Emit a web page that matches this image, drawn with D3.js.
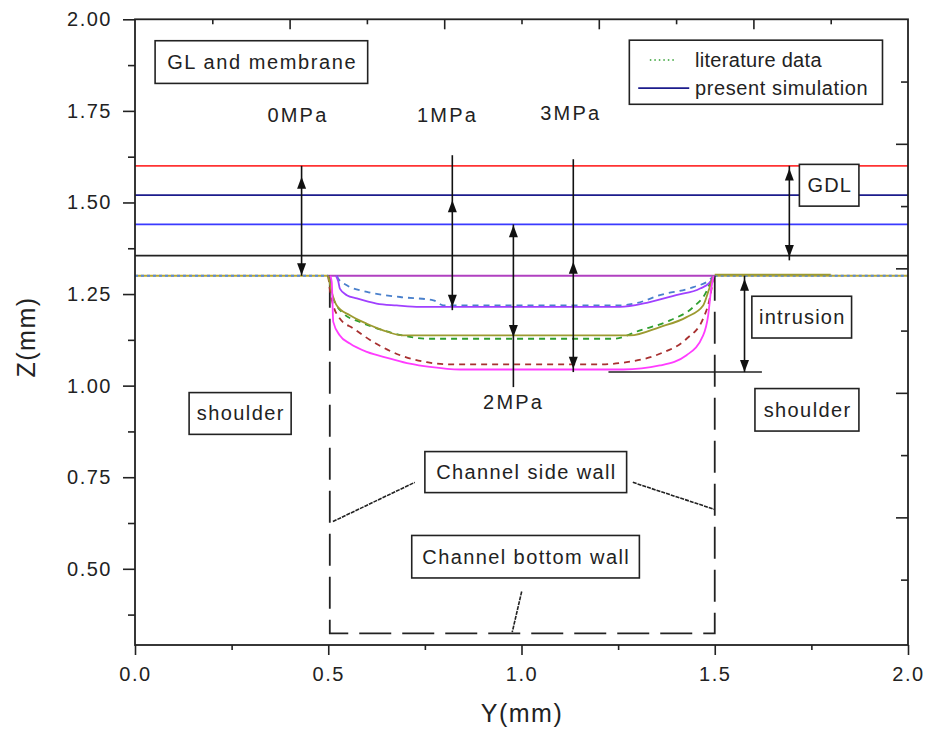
<!DOCTYPE html>
<html>
<head>
<meta charset="utf-8">
<script src="https://cdn.jsdelivr.net/npm/d3@7"></script>
<style>
  body { margin: 0; background: #fff; }
  text { font-family: Arial, "Liberation Sans", sans-serif; fill: #222; }
</style>
</head>
<body>
<svg id="chart" width="927" height="731"></svg>
<script>
// axis ticks
var xTicks = [0, 0.5, 1.0, 1.5, 2.0];
var xMinor = [0.25, 0.75, 1.25, 1.75];
var yTicks = [0.50, 0.75, 1.00, 1.25, 1.50, 1.75, 2.00];
var yMinor = [0.375, 0.625, 0.875, 1.125, 1.375, 1.625, 1.875];
var topMajor = [0.4, 0.8, 1.2, 1.6];
var topMinor = [0.2, 0.6, 1.0, 1.4, 1.8];
var rightTicks = [1, 2, 3, 4, 5, 6, 7, 8, 9];

// horizontal layer boundaries (Z, mm)
var layerZ = [1.60, 1.52, 1.44, 1.355];
var layerColor = ["#ff3333", "#1c1c8c", "#3a3aff", "#222222"];
var shoulderZ = 1.30;

// intrusion profiles [Y, Z]
var sim1MPa = [[0.52,1.30],[0.526,1.284],[0.530,1.265],[0.548,1.247],[0.574,1.238],[0.625,1.224],[0.677,1.219],[0.737,1.215],[1.255,1.215],[1.324,1.226],[1.40,1.247],[1.462,1.265],[1.488,1.283],[1.496,1.30]];
var lit1MPa = [[0.522,1.30],[0.526,1.292],[0.548,1.274],[0.60,1.256],[0.686,1.242],[0.772,1.233],[0.798,1.219],[1.25,1.219],[1.30,1.226],[1.358,1.247],[1.445,1.269],[1.488,1.29],[1.496,1.30]];
var sim2MPa = [[0.50,1.30],[0.509,1.256],[0.522,1.219],[0.556,1.192],[0.60,1.169],[0.642,1.151],[0.694,1.137],[1.281,1.137],[1.358,1.160],[1.427,1.187],[1.47,1.219],[1.483,1.256],[1.496,1.30]];
var lit2MPa = [[0.50,1.30],[0.505,1.265],[0.513,1.238],[0.539,1.197],[0.582,1.174],[0.642,1.151],[0.711,1.133],[0.755,1.128],[1.238,1.128],[1.307,1.151],[1.384,1.178],[1.445,1.215],[1.478,1.256],[1.491,1.288],[1.496,1.30]];
var sim3MPa = [[0.505,1.30],[0.509,1.283],[0.513,1.174],[0.530,1.137],[0.556,1.115],[0.60,1.092],[0.66,1.074],[0.711,1.060],[0.763,1.051],[0.841,1.044],[1.263,1.044],[1.358,1.055],[1.427,1.083],[1.47,1.137],[1.483,1.192],[1.491,1.265],[1.497,1.30]];
var lit3MPa = [[0.50,1.30],[0.505,1.256],[0.513,1.219],[0.530,1.183],[0.565,1.156],[0.617,1.119],[0.686,1.083],[0.755,1.064],[0.815,1.058],[1.20,1.058],[1.272,1.064],[1.358,1.087],[1.427,1.128],[1.47,1.183],[1.487,1.238],[1.496,1.292]];

var sims = [sim1MPa, sim2MPa, sim3MPa];
var simColor = ["#a040ff", "#9c9a30", "#ff3cff"];
var lits = [lit1MPa, lit2MPa, lit3MPa];
var litColor = ["#4a80cc", "#2f9f2f", "#a83030"];

// double arrows: Y position, line extent, head tips (Z)
var arrows = [
  {at: 0.431, top: 1.60, bottom: 1.30, up: 1.570, down: 1.301},
  {at: 0.821, top: 1.629, bottom: 1.206, up: 1.506, down: 1.215},
  {at: 0.979, top: 1.44, bottom: 0.996, up: 1.438, down: 1.133},
  {at: 1.134, top: 1.618, bottom: 1.037, up: 1.338, down: 1.046},
  {at: 1.693, top: 1.60, bottom: 1.342, up: 1.593, down: 1.351},
  {at: 1.577, top: 1.30, bottom: 1.037, up: 1.292, down: 1.037}
];

// labelled boxes [Y0, Y1, Z0, Z1]
var boxes = [
  {text: "GL and membrane", ext: [0.052, 0.602, 1.825, 1.9415], ls: 1.6},
  {text: "GDL", ext: [1.719, 1.873, 1.490, 1.604], ls: 1.2},
  {text: "intrusion", ext: [1.596, 1.854, 1.130, 1.244], ls: 1.2},
  {text: "shoulder", ext: [1.604, 1.873, 0.876, 0.992], ls: 1.4},
  {text: "shoulder", ext: [0.140, 0.404, 0.867, 0.981], ls: 1.4},
  {text: "Channel side wall", ext: [0.750, 1.272, 0.708, 0.820], ls: 1.4},
  {text: "Channel bottom wall", ext: [0.716, 1.305, 0.475, 0.591], ls: 1.4}
];

var pressLabels = [
  {text: "0MPa", y: 0.419, z: 1.739},
  {text: "1MPa", y: 0.806, z: 1.739},
  {text: "3MPa", y: 1.125, z: 1.744},
  {text: "2MPa", y: 0.977, z: 0.955}
];

var leaders = [
  [[0.512, 0.629], [0.724, 0.736]],
  [[1.288, 0.736], [1.500, 0.662]],
  [[1.0005, 0.438], [0.976, 0.327]]
];
var wall = [[0.504, 1.30], [0.504, 0.324], [1.5, 0.324], [1.5, 1.30]];

var svg = d3.select("#chart");
var x = d3.scaleLinear().domain([0, 2]).range([135, 908]);
var y = d3.scaleLinear().domain([0.292, 2.0]).range([645, 19.3]);
var yR = d3.scaleLinear().domain([0, 10.05]).range([19.3, 645]);

var line = d3.line().x(function(d) { return x(d[0]); }).y(function(d) { return y(d[1]); });
var curve = d3.line().x(function(d) { return x(d[0]); }).y(function(d) { return y(d[1]); })
    .curve(d3.curveMonotoneX);

// layer lines
svg.selectAll(".layer").data(layerZ).enter().append("line")
    .attr("x1", x(0)).attr("x2", x(2))
    .attr("y1", function(d) { return y(d); }).attr("y2", function(d) { return y(d); })
    .attr("stroke", function(d, i) { return layerColor[i]; })
    .attr("stroke-width", 1.8);

// shoulders
[[0, 0.5], [1.5, 2.0]].forEach(function(s) {
  svg.append("path").attr("d", line([[s[0], shoulderZ], [s[1], shoulderZ]]))
      .attr("stroke", "#b8a830").attr("stroke-width", 1.8).attr("fill", "none");
  svg.append("path").attr("d", line([[s[0], shoulderZ], [s[1], shoulderZ]]))
      .attr("stroke", "#5a8ad8").attr("stroke-width", 1.8).attr("fill", "none")
      .attr("stroke-dasharray", "3,3");
});
svg.append("path").attr("d", line([[1.5, 1.303], [1.8, 1.303]]))
    .attr("stroke", "#9c9a30").attr("stroke-width", 1.8).attr("fill", "none");
svg.append("path").attr("d", line([[0.5, shoulderZ], [1.5, shoulderZ]]))
    .attr("stroke", "#b040c0").attr("stroke-width", 1.8).attr("fill", "none");

// channel walls
svg.append("path").attr("d", line(wall))
    .attr("stroke", "#222").attr("stroke-width", 1.8).attr("fill", "none")
    .attr("stroke-dasharray", "32,11");

// profiles
lits.forEach(function(d, i) {
  svg.append("path").attr("d", curve(d)).attr("fill", "none")
      .attr("stroke", litColor[i]).attr("stroke-width", 1.8)
      .attr("stroke-dasharray", "6,5");
});
sims.forEach(function(d, i) {
  svg.append("path").attr("d", curve(d)).attr("fill", "none")
      .attr("stroke", simColor[i]).attr("stroke-width", 1.8);
});

// intrusion base line
svg.append("path").attr("d", line([[1.225, 1.037], [1.622, 1.037]]))
    .attr("stroke", "#222").attr("stroke-width", 1.5);

// arrows
function head(cx, tipY, dir) {
  var h = 12, w = 4.5;
  return "M" + cx + "," + tipY + "L" + (cx - w) + "," + (tipY + dir * h) +
         "L" + (cx + w) + "," + (tipY + dir * h) + "Z";
}
arrows.forEach(function(a) {
  var cx = x(a.at);
  svg.append("line").attr("x1", cx).attr("x2", cx)
      .attr("y1", y(a.top)).attr("y2", y(a.bottom))
      .attr("stroke", "#111").attr("stroke-width", 1.6);
  svg.append("path").attr("d", head(cx, y(a.up), 1)).attr("fill", "#111");
  svg.append("path").attr("d", head(cx, y(a.down), -1)).attr("fill", "#111");
});

// leader lines
leaders.forEach(function(l) {
  svg.append("path").attr("d", line(l)).attr("stroke", "#222")
      .attr("stroke-width", 1.6).attr("stroke-dasharray", "4,1").attr("fill", "none");
});

// boxes
boxes.forEach(function(b) {
  var x0 = x(b.ext[0]), x1 = x(b.ext[1]), y0 = y(b.ext[3]), y1 = y(b.ext[2]);
  svg.append("rect").attr("x", x0).attr("y", y0)
      .attr("width", x1 - x0).attr("height", y1 - y0)
      .attr("fill", "#fff").attr("stroke", "#222").attr("stroke-width", 1.6);
  svg.append("text").attr("x", (x0 + x1) / 2 + b.ls / 2).attr("y", (y0 + y1) / 2 + 7)
      .attr("text-anchor", "middle").attr("font-size", 20)
      .attr("letter-spacing", b.ls).text(b.text);
});

pressLabels.forEach(function(p) {
  svg.append("text").attr("x", x(p.y) + 1).attr("y", y(p.z) + 7)
      .attr("text-anchor", "middle").attr("font-size", 20)
      .attr("letter-spacing", 2.2).text(p.text);
});

// legend
var lg = svg.append("g");
lg.append("rect").attr("x", x(1.279)).attr("y", y(1.943))
    .attr("width", x(1.934) - x(1.279)).attr("height", y(1.768) - y(1.943))
    .attr("fill", "#fff").attr("stroke", "#222").attr("stroke-width", 1.6);
lg.append("path").attr("d", line([[1.332, 1.889], [1.397, 1.889]]))
    .attr("stroke", "#2f9f2f").attr("stroke-width", 1.6).attr("stroke-dasharray", "1.5,3");
lg.append("path").attr("d", line([[1.302, 1.812], [1.434, 1.812]]))
    .attr("stroke", "#1c1c8c").attr("stroke-width", 1.8);
lg.append("text").attr("x", x(1.449)).attr("y", y(1.889) + 7)
    .attr("font-size", 20).attr("letter-spacing", 0.3).text("literature data");
lg.append("text").attr("x", x(1.449)).attr("y", y(1.812) + 7)
    .attr("font-size", 20).attr("letter-spacing", 0.6).text("present simulation");

// axes
function styleAxis(g) {
  g.select(".domain").remove();
  g.selectAll("line").attr("stroke", "#222").attr("stroke-width", 1.6);
  g.selectAll("text").attr("font-size", 20).attr("letter-spacing", 1.5)
      .attr("fill", "#222").style("font-family", "Arial, 'Liberation Sans', sans-serif");
}
svg.append("g").attr("transform", "translate(135,0)")
    .call(d3.axisLeft(y).tickValues(yTicks).tickSize(12).tickPadding(11).tickFormat(d3.format(".2f")))
    .call(styleAxis);
svg.append("g").attr("transform", "translate(135,0)")
    .call(d3.axisLeft(y).tickValues(yMinor).tickSize(7).tickFormat(""))
    .call(styleAxis);
svg.append("g").attr("transform", "translate(0,645)")
    .call(d3.axisBottom(x).tickValues(xTicks).tickSize(10).tickPadding(12).tickFormat(d3.format(".1f")))
    .call(styleAxis);
svg.append("g").attr("transform", "translate(0,645)")
    .call(d3.axisBottom(x).tickValues(xMinor).tickSize(5).tickFormat(""))
    .call(styleAxis);
svg.append("g").attr("transform", "translate(0,19.3)")
    .call(d3.axisTop(x).tickValues(topMajor).tickSize(-10).tickFormat(""))
    .call(styleAxis);
svg.append("g").attr("transform", "translate(0,19.3)")
    .call(d3.axisTop(x).tickValues(topMinor).tickSize(-5).tickFormat(""))
    .call(styleAxis);
svg.append("g").attr("transform", "translate(908,0)")
    .call(d3.axisRight(yR).tickValues(rightTicks.filter(function(d) { return d % 2 === 0; })).tickSize(-12).tickFormat(""))
    .call(styleAxis);
svg.append("g").attr("transform", "translate(908,0)")
    .call(d3.axisRight(yR).tickValues(rightTicks.filter(function(d) { return d % 2 === 1; })).tickSize(-7).tickFormat(""))
    .call(styleAxis);

svg.append("rect").attr("x", 135).attr("y", 19.3)
    .attr("width", 908 - 135).attr("height", 645 - 19.3)
    .attr("fill", "none").attr("stroke", "#222").attr("stroke-width", 1.8);

// axis titles
svg.append("text").attr("transform", "translate(35,337) rotate(-90)")
    .attr("text-anchor", "middle").attr("font-size", 25).attr("letter-spacing", 1.5)
    .text("Z(mm)");
svg.append("text").attr("x", 522).attr("y", 722)
    .attr("text-anchor", "middle").attr("font-size", 25).attr("letter-spacing", 1.5)
    .text("Y(mm)");
</script>
</body>
</html>
